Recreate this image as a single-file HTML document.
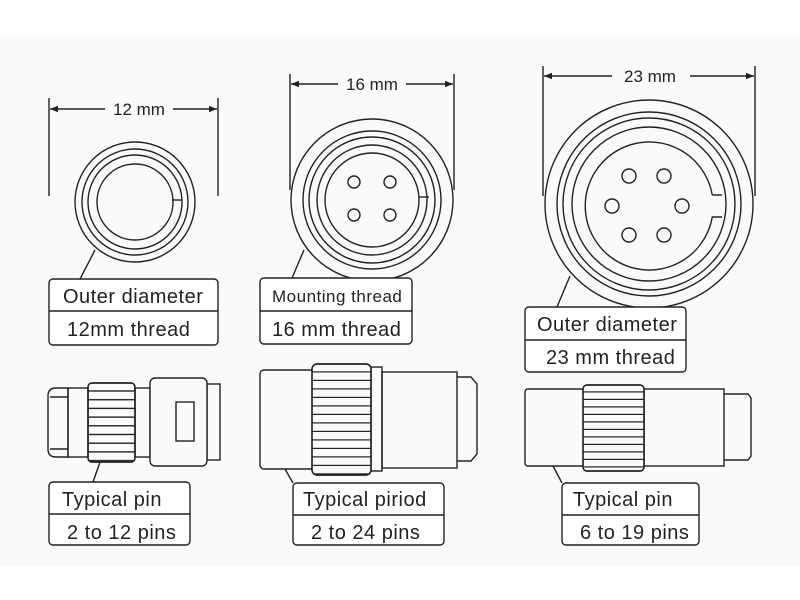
<!DOCTYPE html>
<html><head><meta charset="utf-8"><style>
html,body{margin:0;padding:0;background:#fff}
svg{display:block}
text{font-family:"Liberation Sans","DejaVu Sans",sans-serif;fill:#222}
</style></head><body>
<svg width="800" height="600" viewBox="0 0 800 600" xmlns="http://www.w3.org/2000/svg">
<defs>
<pattern id="k1" x="0" y="383" width="10" height="8.7" patternUnits="userSpaceOnUse"><line x1="0" y1="8" x2="10" y2="8" stroke="#222" stroke-width="1.4"/></pattern>
<pattern id="k2" x="0" y="364" width="10" height="8.5" patternUnits="userSpaceOnUse"><line x1="0" y1="8" x2="10" y2="8" stroke="#222" stroke-width="1.4"/></pattern>
<pattern id="k3" x="0" y="385" width="10" height="7.5" patternUnits="userSpaceOnUse"><line x1="0" y1="7" x2="10" y2="7" stroke="#222" stroke-width="1.4"/></pattern>
<marker id="ar" viewBox="0 0 10 10" refX="10" refY="5" markerWidth="10" markerHeight="8" orient="auto-start-reverse" markerUnits="userSpaceOnUse"><path d="M0,1 L10,5 L0,9 Z" fill="#222"/></marker>
</defs>
<rect x="0" y="33" width="800" height="533" fill="#fafafa"/>
<g stroke="#222" stroke-width="1.4" fill="none">
<line x1="49" y1="98" x2="49" y2="196"/><line x1="218" y1="98" x2="218" y2="196"/>
<line x1="50" y1="109" x2="105" y2="109" marker-start="url(#ar)"/><line x1="173" y1="109" x2="217" y2="109" marker-end="url(#ar)"/>
<circle cx="135" cy="202" r="60"/><circle cx="135" cy="202" r="53"/><circle cx="135" cy="202" r="47"/><circle cx="135" cy="202" r="38"/>
<line x1="172" y1="200" x2="182" y2="200"/>
<line x1="95" y1="250" x2="80" y2="279"/>
<rect x="49" y="279" width="169" height="66" rx="4" fill="#fff"/><line x1="49" y1="311" x2="218" y2="311"/>
<line x1="290" y1="74" x2="290" y2="190"/><line x1="454" y1="74" x2="454" y2="190"/>
<line x1="291" y1="84" x2="338" y2="84" marker-start="url(#ar)"/><line x1="406" y1="84" x2="453" y2="84" marker-end="url(#ar)"/>
<circle cx="372" cy="200" r="81"/><circle cx="372" cy="200" r="69"/><circle cx="372" cy="200" r="63"/><circle cx="372" cy="200" r="55"/><circle cx="372" cy="200" r="47"/>
<line x1="419" y1="197" x2="429" y2="197"/>
<circle cx="354" cy="182" r="6"/><circle cx="390" cy="182" r="6"/><circle cx="354" cy="215" r="6"/><circle cx="390" cy="215" r="6"/>
<line x1="304" y1="250" x2="292" y2="278"/>
<rect x="260" y="278" width="152" height="66" rx="4" fill="#fff"/><line x1="260" y1="311" x2="412" y2="311"/>
<line x1="543" y1="66" x2="543" y2="196"/><line x1="755" y1="66" x2="755" y2="196"/>
<line x1="544" y1="76" x2="612" y2="76" marker-start="url(#ar)"/><line x1="690" y1="76" x2="754" y2="76" marker-end="url(#ar)"/>
<circle cx="649" cy="204" r="104"/><circle cx="649" cy="204" r="92"/><circle cx="649" cy="204" r="86"/><circle cx="649" cy="204" r="77"/>
<path d="M 712.3 195 A 64 64 0 1 0 712.3 217 L 722 217 M 712.3 195 L 722 195"/>
<circle cx="629" cy="176" r="7"/><circle cx="664" cy="176" r="7"/><circle cx="612" cy="206" r="7"/><circle cx="682" cy="206" r="7"/><circle cx="629" cy="235" r="7"/><circle cx="664" cy="235" r="7"/>
<line x1="570" y1="276" x2="557" y2="307"/>
<rect x="525" y="307" width="161" height="65" rx="4" fill="#fff"/><line x1="525" y1="340" x2="686" y2="340"/>
<path d="M 68 388 L 56 388 Q 48 388 48 396 L 48 449 Q 48 457 56 457 L 68 457 Z"/>
<line x1="50" y1="397" x2="68" y2="397"/><line x1="50" y1="449" x2="68" y2="449"/>
<rect x="68" y="388" width="20" height="69"/>
<rect x="88" y="383" width="47" height="79" rx="4" fill="url(#k1)"/>
<rect x="88" y="383" width="47" height="79" rx="4"/>
<rect x="135" y="388" width="15" height="69"/>
<rect x="207" y="384" width="13" height="76"/>
<rect x="150" y="378" width="57" height="88" rx="5" fill="#fafafa"/>
<rect x="176" y="402" width="18" height="39"/>
<line x1="100" y1="462" x2="93" y2="482"/>
<rect x="49" y="482" width="141" height="63" rx="4" fill="#fff"/><line x1="49" y1="514" x2="190" y2="514"/>
<rect x="260" y="370" width="54" height="99" rx="4"/>
<path d="M 457 377 L 471 377 L 477 384 L 477 454 L 471 461 L 457 461"/>
<rect x="382" y="372" width="75" height="96"/>
<rect x="371" y="367" width="11" height="104"/>
<rect x="312" y="364" width="59" height="111" rx="5" fill="#fafafa"/>
<rect x="312" y="364" width="59" height="111" rx="5" fill="url(#k2)"/>
<line x1="285" y1="469" x2="293" y2="483"/>
<rect x="293" y="483" width="151" height="62" rx="4" fill="#fff"/><line x1="293" y1="515" x2="444" y2="515"/>
<rect x="525" y="389" width="60" height="77" rx="3"/>
<path d="M 724 394 L 748 394 L 751 398 L 751 456 L 748 460 L 724 460"/>
<rect x="644" y="389" width="80" height="77"/>
<rect x="583" y="385" width="61" height="86" rx="4" fill="#fafafa"/>
<rect x="583" y="385" width="61" height="86" rx="4" fill="url(#k3)"/>
<line x1="553" y1="466" x2="562" y2="483"/>
<rect x="562" y="483" width="137" height="62" rx="4" fill="#fff"/><line x1="562" y1="515" x2="699" y2="515"/>
</g>
<g font-size="17" text-anchor="middle">
<text x="139" y="115">12 mm</text>
<text x="372" y="90">16 mm</text>
<text x="650" y="82">23 mm</text>
</g>
<g font-size="20" letter-spacing="0.5">
<text x="63" y="303">Outer diameter</text>
<text x="67" y="336">12mm thread</text>
<text x="272" y="302" font-size="17">Mounting thread</text>
<text x="272" y="336">16 mm thread</text>
<text x="537" y="331">Outer diameter</text>
<text x="546" y="364">23 mm thread</text>
<text x="62" y="506">Typical pin</text>
<text x="67" y="539">2 to 12 pins</text>
<text x="303" y="506">Typical piriod</text>
<text x="311" y="539">2 to 24 pins</text>
<text x="573" y="506">Typical pin</text>
<text x="580" y="539">6 to 19 pins</text>
</g>
</svg>
</body></html>
